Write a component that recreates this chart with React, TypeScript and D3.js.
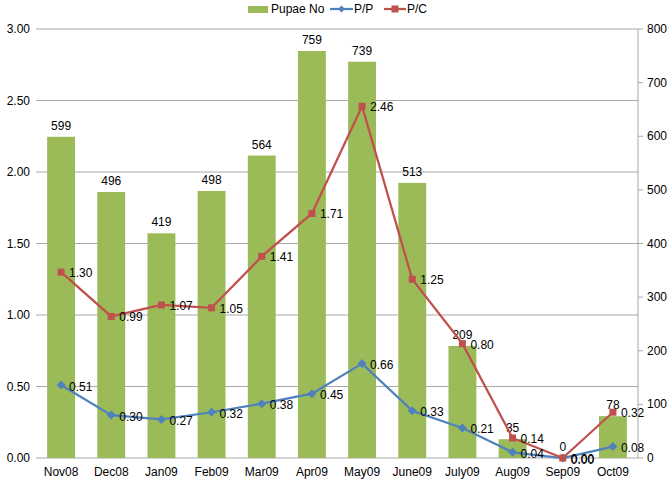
import React from "react";
import * as d3 from "d3";

const categories = ["Nov08", "Dec08", "Jan09", "Feb09", "Mar09", "Apr09", "May09", "June09", "July09", "Aug09", "Sep09", "Oct09"];
const pupaeNo = [599, 496, 419, 498, 564, 759, 739, 513, 209, 35, 0, 78];
const pp = [0.51, 0.30, 0.27, 0.32, 0.38, 0.45, 0.66, 0.33, 0.21, 0.04, 0.00, 0.08];
const pc = [1.30, 0.99, 1.07, 1.05, 1.41, 1.71, 2.46, 1.25, 0.80, 0.14, 0.00, 0.32];
const leftTicks = [0, 0.5, 1, 1.5, 2, 2.5, 3];
const rightTicks = [0, 100, 200, 300, 400, 500, 600, 700, 800];

const W = 671, H = 483;
const L = 36, R = 638, T = 29, B = 458;
const GREEN = "#9BBB59", BLUE = "#4F81BD", RED = "#C0504D";
const GRID = "#A9A9A9";
const FONT = "Liberation Sans, Arial, sans-serif";

export default function App() {
  const x = d3.scaleBand<string>().domain(categories).range([L, R]).paddingInner(0.444).paddingOuter(0.222);
  const xc = (c: string) => (x(c) as number) + x.bandwidth() / 2;
  const yL = d3.scaleLinear().domain([0, 3]).range([B, T]);
  const yR = d3.scaleLinear().domain([0, 800]).range([B, T]);
  const line = d3.line<number>().x((_, i) => xc(categories[i])).y((d) => yL(d));

  return (
    <svg width={W} height={H} style={{ position: "absolute", left: 0, top: 0, background: "#fff" }} fontFamily={FONT}>
      {leftTicks.map((t) => (
        <g key={"l" + t}>
          <line x1={L} x2={R} y1={yL(t)} y2={yL(t)} stroke={GRID} strokeWidth={1} />
          <text x={30} y={yL(t) + 4} fontSize={12} textAnchor="end" fill="#000">{t.toFixed(2)}</text>
        </g>
      ))}
      <line x1={R} x2={R} y1={T} y2={B} stroke={GRID} />
      {rightTicks.map((t) => (
        <g key={"r" + t}>
          <line x1={R} x2={R + 5} y1={yR(t)} y2={yR(t)} stroke={GRID} />
          <text x={647} y={yR(t) + 4} fontSize={12} fill="#000">{t}</text>
        </g>
      ))}
      {categories.map((c, i) => (
        <g key={"b" + c}>
          <rect x={x(c)} width={x.bandwidth()} y={yR(pupaeNo[i])} height={B - yR(pupaeNo[i])} fill={GREEN} />
          <text x={xc(c)} y={yR(pupaeNo[i]) - 7} fontSize={12} textAnchor="middle">{pupaeNo[i]}</text>
          <text x={xc(c)} y={476} fontSize={12} textAnchor="middle">{c}</text>
        </g>
      ))}
      <path d={line(pp) || ""} fill="none" stroke={BLUE} strokeWidth={2.25} />
      <path d={line(pc) || ""} fill="none" stroke={RED} strokeWidth={2.25} />
      {categories.map((c, i) => (
        <g key={"m" + c}>
          <path d={`M${xc(c)},${yL(pp[i]) - 4.5}L${xc(c) + 4.5},${yL(pp[i])}L${xc(c)},${yL(pp[i]) + 4.5}L${xc(c) - 4.5},${yL(pp[i])}Z`} fill={BLUE} />
          <text x={xc(c) + 8} y={yL(pp[i]) + 5.5} fontSize={12}>{pp[i].toFixed(2)}</text>
          <rect x={xc(c) - 3.5} y={yL(pc[i]) - 3.5} width={7} height={7} fill={RED} />
          <text x={xc(c) + 8} y={yL(pc[i]) + 5} fontSize={12}>{pc[i].toFixed(2)}</text>
        </g>
      ))}
      <g>
        <rect x={248} y={6} width={20} height={7} fill={GREEN} />
        <text x={271} y={13} fontSize={12}>Pupae No</text>
        <line x1={330} x2={353} y1={9} y2={9} stroke={BLUE} strokeWidth={2.25} />
        <path d="M341.5,5.5L345,9L341.5,12.5L338,9Z" fill={BLUE} />
        <text x={354} y={13} fontSize={12}>P/P</text>
        <line x1={384} x2={406} y1={9} y2={9} stroke={RED} strokeWidth={2.25} />
        <rect x={391.5} y={5.5} width={7} height={7} fill={RED} />
        <text x={407} y={13} fontSize={12}>P/C</text>
      </g>
    </svg>
  );
}
